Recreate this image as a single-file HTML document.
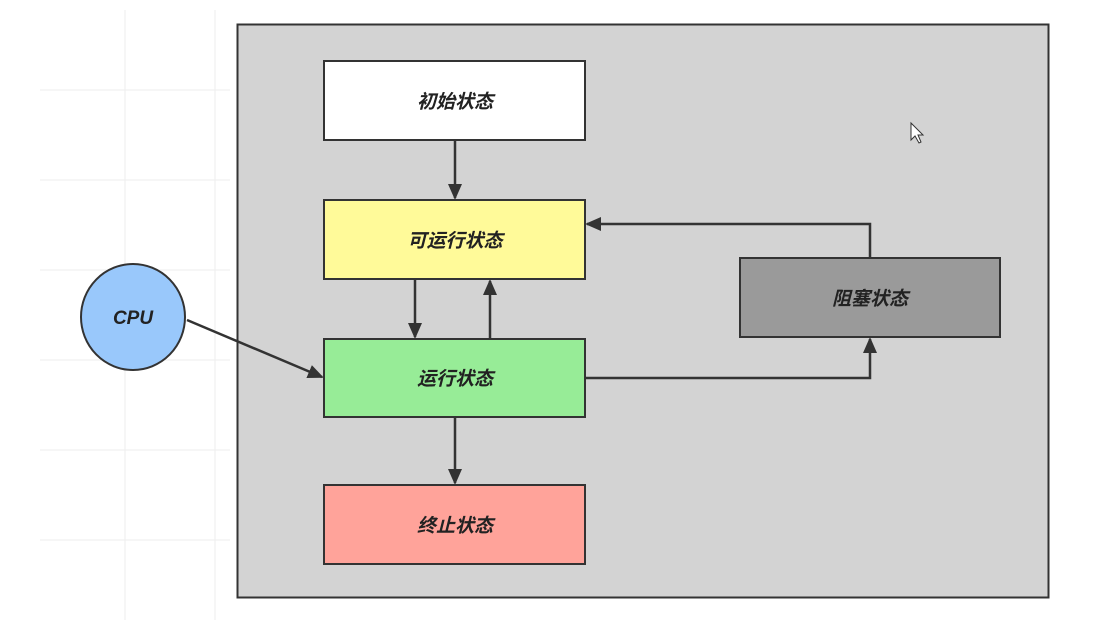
<!DOCTYPE html>
<html><head><meta charset="utf-8"><style>body{margin:0;background:#fff}svg{display:block}text{font-family:"Liberation Sans","Noto Sans CJK SC",sans-serif;font-style:italic;font-weight:bold;font-size:19px;fill:#222}</style></head><body>
<svg width="1102" height="633" viewBox="0 0 1102 633" xmlns="http://www.w3.org/2000/svg">
<defs><marker id="a" markerWidth="16" markerHeight="14" refX="14" refY="7" orient="auto" markerUnits="userSpaceOnUse"><path d="M0,0 L16,7 L0,14 Z" fill="#333"/></marker></defs>
<g stroke="#eee" stroke-width="1">
<line x1="40" y1="90" x2="230" y2="90"/><line x1="40" y1="180" x2="230" y2="180"/><line x1="40" y1="270" x2="230" y2="270"/><line x1="40" y1="360" x2="230" y2="360"/><line x1="40" y1="450" x2="230" y2="450"/><line x1="40" y1="540" x2="230" y2="540"/>
<line x1="125" y1="10" x2="125" y2="620"/><line x1="215" y1="10" x2="215" y2="620"/>
</g>
<rect x="237.5" y="24.5" width="811" height="573" fill="#d3d3d3" stroke="#333" stroke-width="2"/>
<g stroke="#333" stroke-width="2">
<rect x="324" y="61" width="261" height="79" fill="#fff"/>
<rect x="324" y="200" width="261" height="79" fill="#fffa99"/>
<rect x="324" y="339" width="261" height="78" fill="#97ec97"/>
<rect x="324" y="485" width="261" height="79" fill="#ffa39a"/>
<rect x="740" y="258" width="260" height="79" fill="#9a9a9a"/>
<ellipse cx="133" cy="317" rx="52" ry="53" fill="#99c8fb"/>
</g>
<g stroke="#333" stroke-width="2.5" fill="none" marker-end="url(#a)">
<line x1="455" y1="140" x2="455" y2="198"/>
<line x1="415" y1="279" x2="415" y2="337"/>
<line x1="490" y1="339" x2="490" y2="281"/>
<line x1="187" y1="320" x2="322" y2="377"/>
<polyline points="585,378 870,378 870,339"/>
<polyline points="870,258 870,224 587,224"/>
<line x1="455" y1="417" x2="455" y2="483"/>
</g>
<text x="455" y="108" text-anchor="middle">初始状态</text>
<text x="455" y="247" text-anchor="middle">可运行状态</text>
<text x="455" y="385" text-anchor="middle">运行状态</text>
<text x="455" y="532" text-anchor="middle">终止状态</text>
<text x="870" y="305" text-anchor="middle">阻塞状态</text>
<text x="133" y="324" text-anchor="middle">CPU</text>
<path d="M911,123 L911,140 L915,136 L919,143 L921,142 L918,135 L923,135 Z" fill="#fff" stroke="#333" stroke-width="1"/>
</svg>
</body></html>
